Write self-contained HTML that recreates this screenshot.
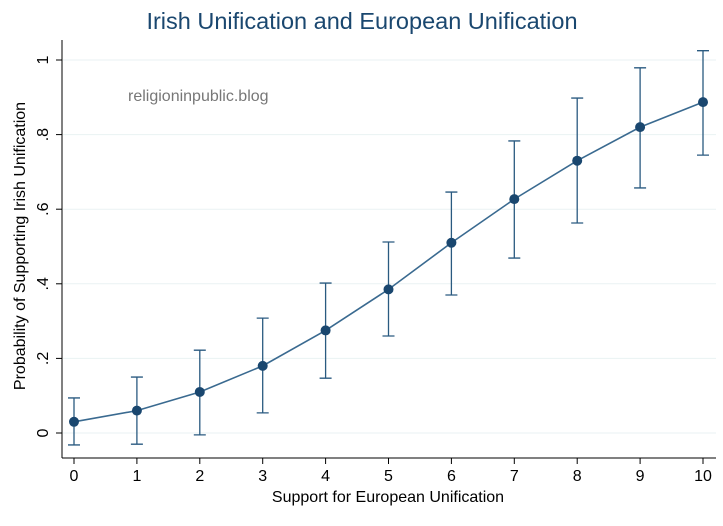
<!DOCTYPE html>
<html><head><meta charset="utf-8"><style>
body{margin:0;background:#fff;}
svg{display:block;font-family:"Liberation Sans",Arial,sans-serif;}
</style></head><body>
<svg id="chart" width="723" height="526" viewBox="0 0 723 526">
<rect width="723" height="526" fill="#fff"/>
<text x="362" y="29" text-anchor="middle" font-size="23.5" fill="#1a476f">Irish Unification and European Unification</text>
<text x="128" y="101" font-size="16" fill="#777">religioninpublic.blog</text>
<text transform="translate(25,246) rotate(-90)" text-anchor="middle" font-size="16" fill="#000">Probability of Supporting Irish Unification</text>
<text x="388" y="502" text-anchor="middle" font-size="16" fill="#000">Support for European Unification</text>
<g id="grid"></g><g id="axes"></g><g id="marks"></g>
</svg>
<script>
const categories=[0,1,2,3,4,5,6,7,8,9,10];
const estimates=[0.03,0.06,0.11,0.18,0.275,0.385,0.51,0.627,0.73,0.82,0.887];
const upper=[0.094,0.15,0.222,0.308,0.402,0.512,0.646,0.783,0.898,0.979,1.025];
const lower=[-0.032,-0.03,-0.005,0.054,0.147,0.26,0.37,0.469,0.563,0.657,0.745];
const yTicks=[0,0.2,0.4,0.6,0.8,1];
const yTickLabels=["0",".2",".4",".6",".8","1"];
const ns="http://www.w3.org/2000/svg";
const x=v=>74+v*62.9;
const y=v=>433-v*373;
function mk(tag,attrs,parent){const e=document.createElementNS(ns,tag);for(const k in attrs)e.setAttribute(k,attrs[k]);parent.appendChild(e);return e;}
const grid=document.getElementById('grid'),axes=document.getElementById('axes'),marks=document.getElementById('marks');
yTicks.forEach((t,i)=>{
 const g=mk('line',{x1:63,x2:716,y1:y(t),y2:y(t),stroke:'#eaf2f3','stroke-width':1},grid);
 
 
 const tk=mk('line',{x1:56,x2:62,y1:y(t),y2:y(t),stroke:'#000'},axes);
 
 
 const lb=mk('text',{transform:`translate(48,${y(t)}) rotate(-90)`,'text-anchor':'middle','font-size':16},axes);
 lb.textContent=yTickLabels[i];
 
 
});
const ya=mk('line',{x1:62,x2:62,y1:40,y2:458,stroke:'#000'},axes);


const xa=mk('line',{x1:62,x2:716,y1:458,y2:458,stroke:'#000'},axes);


categories.forEach(c=>{
 const tk=mk('line',{x1:x(c),x2:x(c),y1:458,y2:464,stroke:'#000'},axes);
 
 
 const lb=mk('text',{x:x(c),y:481,'text-anchor':'middle','font-size':16},axes);
 lb.textContent=String(c);
 
 
});
const col='#1a476f';
categories.forEach((c,i)=>{
 const e=mk('path',{d:`M${x(c)-6},${y(upper[i])}H${x(c)+6}M${x(c)},${y(upper[i])}V${y(lower[i])}M${x(c)-6},${y(lower[i])}H${x(c)+6}`,stroke:'#2a5a80','stroke-width':1.3,fill:'none'},marks);
 
 
});
const line=mk('polyline',{points:categories.map((c,i)=>x(c)+','+y(estimates[i])).join(' '),fill:'none',stroke:'#3a6a90','stroke-width':1.6},marks);


categories.forEach((c,i)=>{
 const p=mk('circle',{cx:x(c),cy:y(estimates[i]),r:5,fill:col},marks);
 
 
});
</script>
</body></html>
